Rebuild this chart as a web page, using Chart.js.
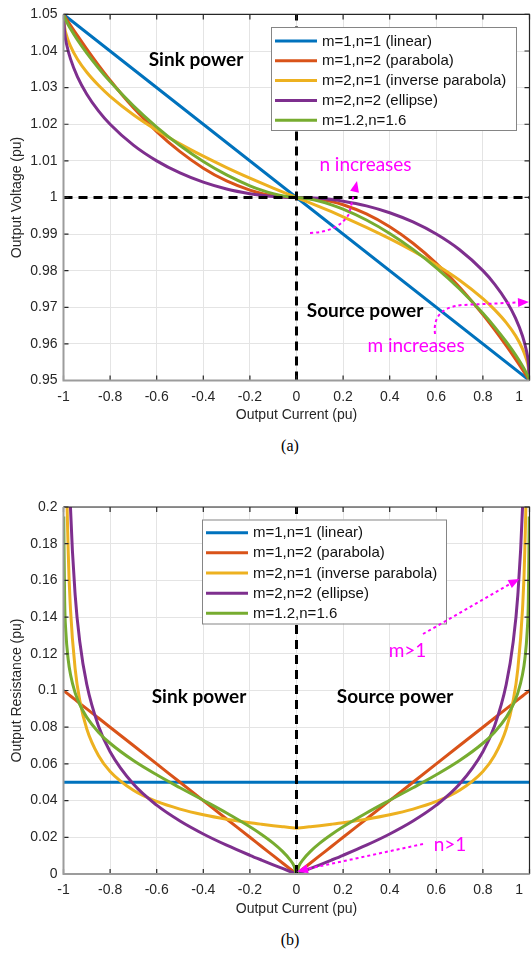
<!DOCTYPE html>
<html>
<head>
<meta charset="utf-8">
<script src="https://cdn.jsdelivr.net/npm/chart.js@4.4.1/dist/chart.umd.min.js"></script>
<style>
  body { margin: 0; background: #fff; }
  #page { position: relative; width: 532px; height: 958px; overflow: hidden; background: #fff; }
  #page canvas { position: absolute; left: 0; }
  .caption { position: absolute; left: 0; width: 580px; text-align: center;
             font: 16px "Liberation Serif", "Times New Roman", serif; color: #000; }
</style>
</head>
<body>
<div id="page">
  <canvas id="voltChart" width="532" height="424" style="top:0"></canvas>
  <div class="caption" style="top:437px">(a)</div>
  <canvas id="resChart" width="532" height="428" style="top:490px"></canvas>
  <div class="caption" style="top:931px">(b)</div>
</div>
<script>
const seriesLabels = ['m=1,n=1 (linear)', 'm=1,n=2 (parabola)', 'm=2,n=1 (inverse parabola)',
                      'm=2,n=2 (ellipse)', 'm=1.2,n=1.6'];
const seriesColors = ['#0072BD', '#D95319', '#EDB120', '#7E2F8E', '#77AC30'];

// straight droop line, both plots
const linearCurrents = [-1, 1];
const voltLinear = [1.05, 0.95];
const resLinear = [0.05, 0.05];

// output voltage (pu) vs output current (pu)
const voltCurrents = [-1, -0.995, -0.985, -0.97, -0.94, -0.9, -0.85, -0.8, -0.7, -0.6, -0.5, -0.4,
  -0.3, -0.2, -0.15, -0.1, -0.05, 0, 0.05, 0.1, 0.15, 0.2, 0.3, 0.4, 0.5, 0.6, 0.7, 0.8, 0.85,
  0.9, 0.94, 0.97, 0.985, 0.995, 1];
const voltParabola = [1.05, 1.0495, 1.04851, 1.04704, 1.04418, 1.0405, 1.03612, 1.032, 1.0245,
  1.018, 1.0125, 1.008, 1.0045, 1.002, 1.00112, 1.0005, 1.00012, 1, 0.99988, 0.9995, 0.99888,
  0.998, 0.9955, 0.992, 0.9875, 0.982, 0.9755, 0.968, 0.96388, 0.9595, 0.95582, 0.95296,
  0.95149, 0.9505, 0.95];
const voltInvParabola = [1.05, 1.04646, 1.04388, 1.04134, 1.03775, 1.03419, 1.03064, 1.02764,
  1.02261, 1.01838, 1.01464, 1.01127, 1.00817, 1.00528, 1.0039, 1.00257, 1.00127, 1, 0.99873,
  0.99743, 0.9961, 0.99472, 0.99183, 0.98873, 0.98536, 0.98162, 0.97739, 0.97236, 0.96936,
  0.96581, 0.96225, 0.95866, 0.95612, 0.95354, 0.95];
const voltEllipse = [1.05, 1.04501, 1.04137, 1.03784, 1.03294, 1.02821, 1.02366, 1.02, 1.01429,
  1.01, 1.0067, 1.00417, 1.0023, 1.00101, 1.00057, 1.00025, 1.00006, 1, 0.99994, 0.99975,
  0.99943, 0.99899, 0.9977, 0.99583, 0.9933, 0.99, 0.98571, 0.98, 0.97634, 0.97179, 0.96706,
  0.96216, 0.95863, 0.95499, 0.95];
const voltMixed = [1.05, 1.04911, 1.04777, 1.04605, 1.04301, 1.03942, 1.03536, 1.03165, 1.02502,
  1.01923, 1.01418, 1.00982, 1.00615, 1.00319, 1.00201, 1.00105, 1.00035, 1, 0.99965, 0.99895,
  0.99799, 0.99681, 0.99385, 0.99018, 0.98582, 0.98077, 0.97498, 0.96835, 0.96464, 0.96058,
  0.95699, 0.95395, 0.95223, 0.95089, 0.95];

// output resistance (pu) vs output current (pu); null = off the top of the plot
const resCurrents = [-1, -0.999, -0.995, -0.99, -0.98, -0.97, -0.95, -0.93, -0.9, -0.85, -0.8,
  -0.7, -0.6, -0.5, -0.4, -0.3, -0.2, -0.15, -0.1, -0.06, -0.03, -0.01, 0, 0.01, 0.03, 0.06, 0.1,
  0.15, 0.2, 0.3, 0.4, 0.5, 0.6, 0.7, 0.8, 0.85, 0.9, 0.93, 0.95, 0.97, 0.98, 0.99, 0.995,
  0.999, 1];
const resParabola = [0.1, 0.0999, 0.0995, 0.099, 0.098, 0.097, 0.095, 0.093, 0.09, 0.085, 0.08,
  0.07, 0.06, 0.05, 0.04, 0.03, 0.02, 0.015, 0.01, 0.006, 0.003, 0.001, 0, 0.001, 0.003, 0.006,
  0.01, 0.015, 0.02, 0.03, 0.04, 0.05, 0.06, 0.07, 0.08, 0.085, 0.09, 0.093, 0.095, 0.097,
  0.098, 0.099, 0.0995, 0.0999, 0.1];
const resInvParabola = [null, null, 0.35355, 0.25, 0.17678, 0.14434, 0.1118, 0.09449, 0.07906,
  0.06455, 0.0559, 0.04564, 0.03953, 0.03536, 0.03228, 0.02988, 0.02795, 0.02712, 0.02635,
  0.02579, 0.02538, 0.02513, 0.025, 0.02513, 0.02538, 0.02579, 0.02635, 0.02712, 0.02795,
  0.02988, 0.03228, 0.03536, 0.03953, 0.04564, 0.0559, 0.06455, 0.07906, 0.09449, 0.1118,
  0.14434, 0.17678, 0.25, 0.35355, null, null];
const resEllipse = [null, null, null, 0.3509, 0.24624, 0.1995, 0.15212, 0.12651, 0.10324,
  0.08068, 0.06667, 0.04901, 0.0375, 0.02887, 0.02182, 0.01572, 0.01021, 0.00759, 0.00503,
  0.00301, 0.0015, 0.0005, 0, 0.0005, 0.0015, 0.00301, 0.00503, 0.00759, 0.01021, 0.01572,
  0.02182, 0.02887, 0.0375, 0.04901, 0.06667, 0.08068, 0.10324, 0.12651, 0.15212, 0.1995,
  0.24624, 0.3509, null, null, null];
const resMixed = [null, 0.19482, 0.14866, 0.13208, 0.11701, 0.10875, 0.09873, 0.09226, 0.08538,
  0.07731, 0.07126, 0.06184, 0.05407, 0.04702, 0.04019, 0.03323, 0.02572, 0.02153, 0.01682,
  0.01235, 0.00814, 0.00421, 0, 0.00421, 0.00814, 0.01235, 0.01682, 0.02153, 0.02572, 0.03323,
  0.04019, 0.04702, 0.05407, 0.06184, 0.07126, 0.07731, 0.08538, 0.09226, 0.09873, 0.10875,
  0.11701, 0.13208, 0.14866, 0.19482, null];

// dashed guide lines
const zeroCurrent = 0;
const nominalVoltage = 1;

const FONT = "'Liberation Sans', Arial, Helvetica, sans-serif";
const NOTE_FONT = "Lato, 'Open Sans', sans-serif";
const AXIS_COLOR = '#262626';
const MAGENTA = '#ff00ff';
const fmtTick = v => String(+Number(v).toFixed(2));

function curve(i, xs, ys) {
  return {
    label: seriesLabels[i],
    data: xs.map((x, k) => ({ x: x, y: ys[k] })),
    borderColor: seriesColors[i],
    backgroundColor: seriesColors[i],
    borderWidth: 3,
    pointRadius: 0,
    cubicInterpolationMode: 'monotone',
    spanGaps: false,
    order: 5 - i   // later series sit on top
  };
}

function guide(xs, ys) {
  return {
    guide: true,
    data: xs.map((x, k) => ({ x: x, y: ys[k] })),
    borderColor: '#000',
    borderWidth: 3,
    borderDash: [9, 6],
    pointRadius: 0,
    tension: 0,
    order: 0
  };
}

function arrowHead(ctx, from, tip) {
  const dx = tip[0] - from[0], dy = tip[1] - from[1];
  const len = Math.hypot(dx, dy);
  const ux = dx / len, uy = dy / len;
  const bx = tip[0] - ux * 11, by = tip[1] - uy * 11;
  ctx.beginPath();
  ctx.moveTo(tip[0], tip[1]);
  ctx.lineTo(bx - uy * 4.5, by + ux * 4.5);
  ctx.lineTo(bx + uy * 4.5, by - ux * 4.5);
  ctx.closePath();
  ctx.fill();
}

// MATLAB-like frame: inward ticks, box, legend, notes and arrows
const framePlugin = {
  id: 'frame',
  afterDatasetsDraw(chart) {
    const { ctx, chartArea: a, scales } = chart;
    ctx.save();
    ctx.strokeStyle = AXIS_COLOR;
    ctx.lineWidth = 1.2;
    ctx.beginPath();
    scales.x.ticks.forEach(t => {
      const px = scales.x.getPixelForValue(t.value);
      ctx.moveTo(px, a.bottom); ctx.lineTo(px, a.bottom - 5);
      ctx.moveTo(px, a.top); ctx.lineTo(px, a.top + 5);
    });
    scales.y.ticks.forEach(t => {
      const py = scales.y.getPixelForValue(t.value);
      ctx.moveTo(a.left, py); ctx.lineTo(a.left + 5, py);
      ctx.moveTo(a.right, py); ctx.lineTo(a.right - 5, py);
    });
    ctx.stroke();
    ctx.lineWidth = 1.2;
    ctx.beginPath();
    ctx.moveTo(a.left, a.top); ctx.lineTo(a.right, a.top); ctx.lineTo(a.right, a.bottom);
    ctx.stroke();
    ctx.strokeStyle = '#9c9c9c';
    ctx.lineWidth = 2;
    ctx.beginPath();
    ctx.moveTo(a.left, a.top); ctx.lineTo(a.left, a.bottom); ctx.lineTo(a.right, a.bottom);
    ctx.stroke();
    ctx.restore();
  },
  afterDraw(chart, args, opts) {
    const { ctx, chartArea: a, scales } = chart;
    ctx.save();

    // x tick labels (last one pulled inside the canvas)
    ctx.font = '14px ' + FONT;
    ctx.fillStyle = AXIS_COLOR;
    ctx.textAlign = 'center';
    ctx.textBaseline = 'middle';
    scales.x.ticks.forEach(t => {
      const txt = fmtTick(t.value);
      const w = ctx.measureText(txt).width;
      const px = Math.min(scales.x.getPixelForValue(t.value), 523 - w / 2);
      ctx.fillText(txt, px, a.bottom + 16.5);
    });

    // legend
    const lg = opts.legend;
    ctx.fillStyle = '#fff';
    ctx.fillRect(lg.x, lg.y, lg.w, lg.h);
    ctx.strokeStyle = '#858585';
    ctx.lineWidth = 1;
    ctx.strokeRect(lg.x + 0.5, lg.y + 0.5, lg.w, lg.h);
    ctx.font = '15px ' + FONT;
    ctx.textAlign = 'left';
    chart.data.datasets.filter(d => !d.guide).forEach((d, i) => {
      const ry = lg.y + lg.first + i * lg.step;
      ctx.strokeStyle = d.borderColor;
      ctx.lineWidth = 3;
      ctx.beginPath();
      ctx.moveTo(lg.x + 4, ry); ctx.lineTo(lg.x + 46, ry);
      ctx.stroke();
      ctx.fillStyle = '#111';
      ctx.fillText(d.label, lg.x + 51, ry + 0.5);
    });

    // notes
    ctx.textAlign = 'center';
    opts.notes.forEach(n => {
      ctx.font = (n.bold ? 'bold ' : '') + n.size + 'px ' + NOTE_FONT;
      ctx.fillStyle = n.color;
      ctx.fillText(n.text, n.x, n.y);
    });

    // dotted arrows
    ctx.strokeStyle = MAGENTA;
    ctx.fillStyle = MAGENTA;
    opts.arrows.forEach(ar => {
      ctx.lineWidth = 2;
      ctx.setLineDash([3, 3]);
      ctx.beginPath();
      ctx.moveTo(ar.path[0][0], ar.path[0][1]);
      ar.path.slice(1).forEach(p => {
        if (p.length === 4) ctx.quadraticCurveTo(p[0], p[1], p[2], p[3]);
        else ctx.lineTo(p[0], p[1]);
      });
      ctx.stroke();
      ctx.setLineDash([]);
      const last = ar.path[ar.path.length - 1];
      arrowHead(ctx, [last[last.length - 2], last[last.length - 1]], ar.tip);
    });
    ctx.restore();
  }
};

function makeChart(id, cfg) {
  return new Chart(document.getElementById(id), {
    type: 'line',
    data: { datasets: cfg.datasets },
    options: {
      responsive: false,
      animation: false,
      devicePixelRatio: 1,
      events: [],
      layout: { autoPadding: false, padding: { top: cfg.padTop, right: 2.5, bottom: 0, left: 0 } },
      plugins: {
        legend: { display: false },
        tooltip: { enabled: false },
        frame: { legend: cfg.legend, notes: cfg.notes, arrows: cfg.arrows }
      },
      scales: {
        x: {
          type: 'linear', min: -1, max: 1,
          ticks: { stepSize: 0.2, display: false },
          grid: { color: '#e4e4e4', lineWidth: 1, drawTicks: false },
          border: { display: false },
          title: { display: true, text: 'Output Current (pu)', color: AXIS_COLOR,
                   font: { family: FONT, size: 14 }, padding: { top: 0, bottom: 0 } },
          afterFit: s => { s.height = cfg.xHeight; }
        },
        y: {
          type: 'linear', min: cfg.yMin, max: cfg.yMax,
          ticks: { stepSize: cfg.yStep, callback: fmtTick, color: AXIS_COLOR, padding: 6,
                   font: { family: FONT, size: 14 }, autoSkip: false },
          grid: { color: '#e4e4e4', lineWidth: 1, drawTicks: false },
          border: { display: false },
          title: { display: true, text: cfg.yTitle, color: AXIS_COLOR,
                   font: { family: FONT, size: 14 }, padding: { top: 9, bottom: 0 } },
          afterFit: s => { s.width = 63.5; }
        }
      }
    },
    plugins: [framePlugin]
  });
}

makeChart('voltChart', {
  padTop: 13.5, xHeight: 43.5,
  yMin: 0.95, yMax: 1.05, yStep: 0.01, yTitle: 'Output Voltage (pu)',
  datasets: [
    curve(0, linearCurrents, voltLinear),
    curve(1, voltCurrents, voltParabola),
    curve(2, voltCurrents, voltInvParabola),
    curve(3, voltCurrents, voltEllipse),
    curve(4, voltCurrents, voltMixed),
    guide([zeroCurrent, zeroCurrent], [0.95, 1.05]),
    guide([-1, 1], [nominalVoltage, nominalVoltage])
  ],
  legend: { x: 271, y: 27, w: 245, h: 103, first: 14, step: 19.8 },
  notes: [
    { text: 'Sink power', x: 196, y: 60, size: 19, bold: true, color: '#000' },
    { text: 'n increases', x: 365.5, y: 165, size: 19, color: MAGENTA },
    { text: 'Source power', x: 365, y: 311, size: 19, bold: true, color: '#000' },
    { text: 'm increases', x: 416, y: 346, size: 19, color: MAGENTA }
  ],
  arrows: [
    { path: [[310, 233], [338, 232, 349, 214], [354, 194]], tip: [357, 181] },
    { path: [[435, 334], [432, 308, 462, 305], [517, 302.5]], tip: [529, 302] }
  ]
});

makeChart('resChart', {
  padTop: 17, xHeight: 44,
  yMin: 0, yMax: 0.2, yStep: 0.02, yTitle: 'Output Resistance (pu)',
  datasets: [
    curve(0, linearCurrents, resLinear),
    curve(1, resCurrents, resParabola),
    curve(2, resCurrents, resInvParabola),
    curve(3, resCurrents, resEllipse),
    curve(4, resCurrents, resMixed),
    guide([zeroCurrent, zeroCurrent], [0, 0.2])
  ],
  legend: { x: 202, y: 29.5, w: 244, h: 104, first: 13.2, step: 20.15 },
  notes: [
    { text: 'Sink power', x: 199, y: 207, size: 19, bold: true, color: '#000' },
    { text: 'Source power', x: 395, y: 207, size: 19, bold: true, color: '#000' },
    { text: 'n>1', x: 450, y: 355, size: 19, color: MAGENTA },
    { text: 'm>1', x: 407.5, y: 161, size: 19, color: MAGENTA }
  ],
  arrows: [
    { path: [[423, 354], [307, 379]], tip: [297, 381.5] },
    { path: [[423, 144], [509, 94.5]], tip: [519.5, 89] }
  ]
});
</script>
</body>
</html>
